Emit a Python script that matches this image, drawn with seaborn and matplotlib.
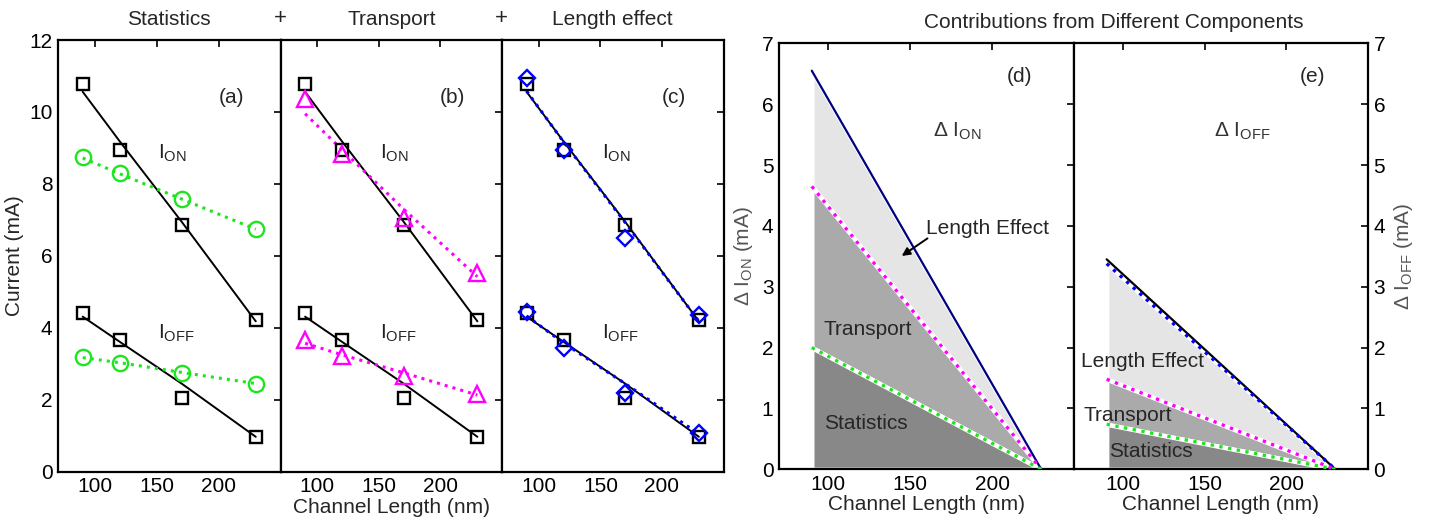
import matplotlib
matplotlib.use("Agg")
import matplotlib.pyplot as plt
import seaborn as sns
import pandas as pd

# ---------------- data ----------------
channel_len = [90, 120, 170, 230]
x_ticks = [100, 150, 200]

base_on = [10.77, 8.93, 6.87, 4.21]
base_off = [4.40, 3.66, 2.04, 0.96]
base_on_fit = [10.56, 9.18, 6.95, 4.18]
base_off_fit = [4.31, 3.61, 2.45, 0.97]

stat_on = [8.75, 8.30, 7.57, 6.74]
stat_off = [3.18, 3.03, 2.75, 2.45]
stat_on_fit = [8.72, 8.28, 7.58, 6.74]
stat_off_fit = [3.17, 3.03, 2.76, 2.45]

trans_on = [10.35, 8.84, 7.04, 5.51]
trans_off = [3.66, 3.22, 2.67, 2.16]
trans_on_fit = [9.95, 8.95, 7.30, 5.42]
trans_off_fit = [3.57, 3.25, 2.75, 2.13]

len_on = [10.93, 8.94, 6.49, 4.35]
len_off = [4.44, 3.43, 2.18, 1.08]
len_on_fit = [10.58, 9.17, 6.93, 4.18]
len_off_fit = [4.33, 3.58, 2.45, 1.05]

delta_len = [90, 230]
d_total = [6.55, 0.0]
d_trans = [4.65, 0.0]
d_stat = [2.00, 0.0]
e_total = [3.45, 0.0]
e_total_fit = [3.38, 0.0]
e_trans = [1.48, 0.0]
e_stat = [0.74, 0.0]

titles_abc = ["Statistics", "Transport", "Length effect"]
panel_tags = ["(a)", "(b)", "(c)", "(d)", "(e)"]

# ---------------- style ----------------
sns.set_style("white")
plt.rcParams["font.family"] = ["Liberation Sans", "DejaVu Sans"]
plt.rcParams["mathtext.fontset"] = "custom"
plt.rcParams["mathtext.rm"] = "Liberation Sans"
plt.rcParams["mathtext.it"] = "Liberation Sans:italic"
plt.rcParams["mathtext.default"] = "regular"

FS = 15
GREEN = "#1ee61e"
MAG = "#ff00ff"
BLUE = "#0000ff"
NAVY = "#000080"

fig = plt.figure(figsize=(14.36, 5.21), dpi=100)
W, H = 1436, 521


def add_ax(l, r, t, b):
    return fig.add_axes([l / W, 1 - b / H, (r - l) / W, (b - t) / H])


ax_a = add_ax(58, 280.5, 40, 471.7)
ax_b = add_ax(280.5, 502, 40, 471.7)
ax_c = add_ax(502, 723.5, 40, 471.7)
ax_d = add_ax(779, 1074, 43.3, 469.3)
ax_e = add_ax(1074, 1368, 43.3, 469.3)


def line(ax, x, y, color, ls, lw):
    df = pd.DataFrame({"x": x, "y": y})
    sns.lineplot(data=df, x="x", y="y", ax=ax, color=color, linestyle=ls,
                 linewidth=lw, zorder=3, legend=False)


def pts(ax, x, y, color, marker, ms):
    df = pd.DataFrame({"x": x, "y": y})
    sns.lineplot(data=df, x="x", y="y", ax=ax, color=color, linestyle="none",
                 marker=marker, markersize=ms, markerfacecolor="none",
                 markeredgecolor=color, markeredgewidth=1.7, zorder=4,
                 legend=False)


def style_axis(ax, ylim, yticks):
    ax.set_xlim(70, 250)
    ax.set_ylim(*ylim)
    ax.set_xticks(x_ticks)
    ax.set_yticks(yticks)
    ax.tick_params(direction="in", length=5, width=1.2, top=True, right=True,
                   labelsize=FS, colors="black", pad=4)
    for s in ax.spines.values():
        s.set_linewidth(1.6)
        s.set_color("black")
        s.set_visible(True)
    ax.set_xlabel("")
    ax.set_ylabel("")


# ---------- panels a-c ----------
comparisons = [
    (ax_a, stat_on, stat_off, stat_on_fit, stat_off_fit, GREEN, "o", 11),
    (ax_b, trans_on, trans_off, trans_on_fit, trans_off_fit, MAG, "^", 11),
    (ax_c, len_on, len_off, len_on_fit, len_off_fit, BLUE, "D", 8.5),
]
for i, (ax, on, off, on_fit, off_fit, col, mk, ms) in enumerate(comparisons):
    line(ax, channel_len, base_on_fit, "black", "-", 1.4)
    line(ax, channel_len, base_off_fit, "black", "-", 1.4)
    pts(ax, channel_len, base_on, "black", "s", 9)
    pts(ax, channel_len, base_off, "black", "s", 9)
    line(ax, channel_len, on_fit, col, ":", 2.2)
    line(ax, channel_len, off_fit, col, ":", 2.2)
    pts(ax, channel_len, on, col, mk, ms)
    pts(ax, channel_len, off, col, mk, ms)
    style_axis(ax, (0, 12), [0, 2, 4, 6, 8, 10, 12])
    if i > 0:
        ax.set_yticklabels([])
    ax.set_title(titles_abc[i], fontsize=FS, pad=11)
    ax.text(210, 10.4, panel_tags[i], fontsize=FS, ha="center", va="center")
    ax.text(151, 8.85, r"I$_{\rm ON}$", fontsize=FS, ha="left", va="center",
            color="#222222")
    ax.text(151, 3.85, r"I$_{\rm OFF}$", fontsize=FS, ha="left", va="center",
            color="#222222")

ax_a.set_ylabel("Current (mA)", fontsize=FS, labelpad=4)
ax_b.set_xlabel("Channel Length (nm)", fontsize=FS, labelpad=1)
fig.text(280 / W, 1 - 19 / H, "+", fontsize=FS + 1, ha="center", va="center")
fig.text(501 / W, 1 - 19 / H, "+", fontsize=FS + 1, ha="center", va="center")

# ---------- panels d-e ----------
LIGHT, MID, DARK = "#e5e5e5", "#aaaaaa", "#888888"


def shade(ax, lo, hi, col):
    ax.fill_between(delta_len, lo, hi, facecolor=col, edgecolor="white",
                    linewidth=3.2, zorder=1)


shade(ax_d, d_trans, d_total, LIGHT)
shade(ax_d, d_stat, d_trans, MID)
shade(ax_d, [0, 0], d_stat, DARK)
line(ax_d, delta_len, d_total, NAVY, "-", 1.6)
line(ax_d, delta_len, d_trans, MAG, ":", 2.4)
line(ax_d, delta_len, d_stat, GREEN, ":", 2.4)

shade(ax_e, e_trans, e_total_fit, LIGHT)
shade(ax_e, e_stat, e_trans, MID)
shade(ax_e, [0, 0], e_stat, DARK)
line(ax_e, delta_len, e_total, "black", "-", 1.6)
line(ax_e, delta_len, e_total_fit, BLUE, ":", 2.4)
line(ax_e, delta_len, e_trans, MAG, ":", 2.4)
line(ax_e, delta_len, e_stat, GREEN, ":", 2.4)

for ax in (ax_d, ax_e):
    style_axis(ax, (0, 7), list(range(8)))
    ax.set_xlabel("Channel Length (nm)", fontsize=FS, labelpad=1)

ax_e.tick_params(labelleft=False, labelright=True)
ax_d.set_ylabel(r"Δ I$_{\rm ON}$ (mA)", fontsize=FS, color="#555555", labelpad=5)
ax_e.yaxis.set_label_position("right")
ax_e.set_ylabel(r"Δ I$_{\rm OFF}$ (mA)", fontsize=FS, color="#555555", labelpad=5)

ax_d.text(217, 6.45, panel_tags[3], fontsize=FS, ha="center", va="center")
ax_e.text(216, 6.45, panel_tags[4], fontsize=FS, ha="center", va="center")
ax_d.text(179, 5.55, r"Δ I$_{\rm ON}$", fontsize=FS, ha="center", va="center",
          color="#333333")
ax_e.text(173, 5.55, r"Δ I$_{\rm OFF}$", fontsize=FS, ha="center", va="center",
          color="#333333")

ax_d.text(197, 3.96, "Length Effect", fontsize=FS, ha="center", va="center", zorder=5)
ax_d.annotate("", xy=(143.5, 3.48), xytext=(162, 3.82),
              arrowprops=dict(arrowstyle="-|>", color="black", lw=1.4,
                              mutation_scale=12), zorder=5)
ax_d.text(124, 2.29, "Transport", fontsize=FS, ha="center", va="center", zorder=5)
ax_d.text(123, 0.76, "Statistics", fontsize=FS, ha="center", va="center", zorder=5)

ax_e.text(112, 1.77, "Length Effect", fontsize=FS, ha="center", va="center", zorder=5)
ax_e.text(103, 0.89, "Transport", fontsize=FS, ha="center", va="center", zorder=5)
ax_e.text(117, 0.29, "Statistics", fontsize=FS, ha="center", va="center", zorder=5)

fig.text(1114 / W, 1 - 22 / H, "Contributions from Different Components",
         fontsize=FS, ha="center", va="center")

fig.savefig("out.png", dpi=100)
